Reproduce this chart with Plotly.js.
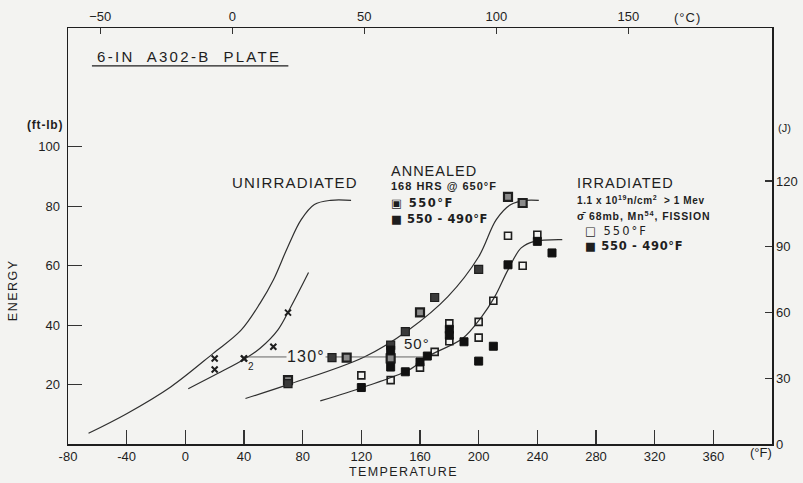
<!DOCTYPE html>
<html>
<head>
<meta charset="utf-8">
<script src="https://cdn.plot.ly/plotly-3.0.1.min.js"></script>
<style>html,body{margin:0;padding:0;background:#f3f3f1;}#chart{width:803px;height:483px;}</style>
</head>
<body>
<div id="chart"></div>
<script>
// ---- data (temperature in °F, energy in ft-lb) ----
const unirrPts_T = [20, 20, 40, 40, 60, 70];
const unirrPts_E = [28.8, 25.1, 28.8, 28.8, 32.7, 44.2];

const unirrCurve_T = [-66, -40, -10, 19, 38, 51, 60, 70, 79, 88, 99, 113];
const unirrCurve_E = [3.6, 10.2, 19.2, 30.5, 38.3, 47.4, 55.2, 66.5, 75.5, 80.6, 82, 82];

const shiftCurve_T = [2, 22, 41, 51, 63, 72, 84];
const shiftCurve_E = [18.6, 23.7, 28.8, 32.2, 38.3, 46.2, 57.7];

const annealCurve_T = [41, 72, 122, 152, 179, 200, 212, 222, 232, 241];
const annealCurve_E = [15.3, 20.3, 29.3, 38.3, 49.6, 63, 75.5, 80.6, 82, 82];

const irrCurve_T = [92, 122, 152, 167, 189, 202, 211, 220, 229, 238, 257];
const irrCurve_E = [14.5, 19.2, 24.8, 29.9, 35.5, 42.8, 49.6, 58.6, 66, 68.2, 68.8];

const annealed550_T = [70, 110, 140, 160, 220, 230];
const annealed550_E = [21.5, 29.1, 28.8, 44.3, 83.2, 81.1];

const annealed550to490_T = [70, 100, 140, 150, 170, 200];
const annealed550to490_E = [20.3, 29.1, 33.3, 37.8, 49.3, 58.8];

const irr550_T = [120, 140, 160, 170, 180, 180, 200, 200, 210, 220, 230, 240];
const irr550_E = [23.1, 21.5, 25.7, 31.0, 40.6, 34.6, 41.1, 35.8, 48.2, 70.1, 60.0, 70.4];

const irr550to490_T = [120, 140, 140, 150, 160, 165, 180, 180, 190, 200, 210, 220, 240, 250];
const irr550to490_E = [19.0, 25.9, 31.6, 24.3, 27.6, 29.6, 38.6, 36.6, 34.4, 27.9, 32.9, 60.3, 68.2, 64.3];

const index30_T = [41, 168];
const index30_E = [29.3, 29.3];

const xTicksF = [-80, -40, 0, 40, 80, 120, 160, 200, 240, 280, 320, 360];
const xTicksC = [-50, 0, 50, 100, 150];
const yTicksFtLb = [20, 40, 60, 80, 100];
const yTicksJ = [0, 30, 60, 90, 120];

const FT_LB_TO_J = 1.35582;
const xRangeF = [-80, 400];
const yRangeFtLb = [0, 140];

const lineCol = '#2f2f2f';
const ink = '#1e1e1e';
const BG = '#f3f3f1';
const FONT = 'Liberation Sans, Arial, sans-serif';
const DJ = 'DejaVu Sans, Liberation Sans, sans-serif';

function curve(T, E) {
  return {x: T, y: E, mode: 'lines', type: 'scatter', hoverinfo: 'skip',
          line: {color: lineCol, width: 1.2, shape: 'spline', smoothing: 1}};
}

const traces = [
  curve(unirrCurve_T, unirrCurve_E),
  curve(shiftCurve_T, shiftCurve_E),
  curve(annealCurve_T, annealCurve_E),
  curve(irrCurve_T, irrCurve_E),
  {x: index30_T, y: index30_E, mode: 'lines', type: 'scatter', line: {color: '#555', width: 0.9}},
  {x: unirrPts_T, y: unirrPts_E, mode: 'markers', type: 'scatter',
   marker: {symbol: 'x-thin', size: 6, line: {color: ink, width: 2}}},
  {x: irr550_T, y: irr550_E, mode: 'markers', type: 'scatter',
   marker: {symbol: 'square-open', size: 7, color: ink, line: {color: ink, width: 1.6}}},
  {x: annealed550_T, y: annealed550_E, mode: 'markers', type: 'scatter',
   marker: {symbol: 'square', size: 8, color: '#8a8a8a', line: {color: ink, width: 2.2}}},
  {x: annealed550to490_T, y: annealed550to490_E, mode: 'markers', type: 'scatter',
   marker: {symbol: 'square', size: 8, color: '#3a3a3a', line: {color: ink, width: 1.2}}},
  {x: irr550to490_T, y: irr550to490_E, mode: 'markers', type: 'scatter',
   marker: {symbol: 'square', size: 8, color: '#111', line: {color: '#111', width: 1}}},
  // companion axes (°C top, J right)
  {x: [], y: [], xaxis: 'x2', yaxis: 'y2', type: 'scatter', mode: 'markers'}
];

const tf = {family: FONT, size: 13, color: ink};
const sp = (t, ls) => '<span style="letter-spacing:' + ls + 'px">' + t + '</span>';
const ann = (x, y, text, size, o, fam) => Object.assign({x: x, y: y, xref: 'x', yref: 'y', text: text,
  showarrow: false, xanchor: 'center', yanchor: 'middle',
  font: {family: fam || FONT, size: size, color: ink}}, o || {});
const pann = (x, y, text, size, o, fam) => Object.assign({x: x, y: y, xref: 'paper', yref: 'paper', text: text,
  showarrow: false, xanchor: 'center', yanchor: 'middle',
  font: {family: fam || FONT, size: size, color: ink}}, o || {});

const annotations = [
  ann(2.5, 130.5, sp('6-IN  A302-B  PLATE', 2.3), 15),
  ann(75, 88.1, sp('UNIRRADIATED', 1.2), 15),
  ann(139, 91.8, sp('ANNEALED', 1), 14.5, {xanchor: 'left'}),
  ann(139, 86.8, sp('<b>168 HRS @ 650°F</b>', 1), 11, {xanchor: 'left'}),
  ann(139, 81.1, sp('<b>▣ 550°F</b>', 1.5), 11.5, {xanchor: 'left'}, DJ),
  ann(139, 75.8, sp('<b>■ 550 - 490°F</b>', 0.6), 11.5, {xanchor: 'left'}, DJ),
  ann(266, 87.8, sp('IRRADIATED', 1), 14.5, {xanchor: 'left'}),
  ann(266, 82.2, sp('<b>1.1 x 10<sup>19</sup>n/cm<sup>2</sup>  > 1 Mev</b>', 0.6), 10, {xanchor: 'left'}),
  ann(265.5, 77.0, sp('<b>σ̄ 68mb, Mn<sup>54</sup>, FISSION</b>', 0.9), 10.5, {xanchor: 'left'}),
  ann(271, 71.6, sp('□ 550°F', 2), 11.5, {xanchor: 'left'}, DJ),
  ann(271, 66.6, sp('<b>■ 550 - 490°F</b>', 0.7), 11.5, {xanchor: 'left'}, DJ),
  ann(82, 29.3, sp('130°', 1.2), 16, {bgcolor: BG, borderpad: 0}),
  ann(158, 33.8, sp('50°', 1), 15),
  ann(45, 26.0, '2', 10),
  pann(-0.004, 0.768, sp('<b>(ft-lb)</b>', 0.8), 12, {xanchor: 'right'}),
  pann(-0.078, 0.37, sp('ENERGY', 1.5), 12.5, {textangle: -90}),
  pann(0.4765, -0.068, sp('TEMPERATURE', 1.4), 12.5),
  pann(0.984, -0.021, '(°F)', 13),
  pann(0.880, 1.026, sp('(°C)', 1), 13),
  pann(1.005, 0.759, '(J)', 11, {xanchor: 'left'})
];

const layout = {
  width: 803, height: 483,
  margin: {l: 68, r: 31, t: 28, b: 39},
  paper_bgcolor: BG, plot_bgcolor: BG,
  showlegend: false,
  font: {family: FONT, color: ink},
  xaxis: {range: xRangeF, tickvals: xTicksF, ticktext: xTicksF.map(String), ticks: 'inside', ticklen: 14,
          tickwidth: 1.1, tickcolor: '#333', showline: true, linecolor: ink, linewidth: 1.5,
          showgrid: false, zeroline: false, tickfont: tf},
  xaxis2: {overlaying: 'x', side: 'top', range: xRangeF.map(f => (f - 32) / 1.8), tickvals: xTicksC,
           ticks: 'inside', ticklen: 6, tickwidth: 1.1, tickcolor: '#333', showline: true, linecolor: ink,
           linewidth: 1.5, showgrid: false, zeroline: false, tickfont: tf},
  yaxis: {range: yRangeFtLb, tickvals: yTicksFtLb, ticks: 'inside', ticklen: 14, tickwidth: 1.1,
          tickcolor: '#333', showline: true, linecolor: ink, linewidth: 1.5, showgrid: false,
          zeroline: false, tickfont: tf, ticklabelstandoff: 4},
  yaxis2: {overlaying: 'y', side: 'right', range: yRangeFtLb.map(e => e * FT_LB_TO_J), tickvals: yTicksJ,
           ticks: 'inside', ticklen: 7, tickwidth: 1.1, tickcolor: '#333', showline: true, linecolor: ink,
           linewidth: 1.5, showgrid: false, zeroline: false, tickfont: tf},
  shapes: [
    {type: 'line', xref: 'paper', yref: 'paper', x0: 0.034, x1: 0.313, y0: 0.909, y1: 0.909,
     line: {color: ink, width: 1.2}}
  ],
  annotations: annotations
};

Plotly.newPlot('chart', traces, layout, {staticPlot: true, displayModeBar: false});
</script>
</body>
</html>
